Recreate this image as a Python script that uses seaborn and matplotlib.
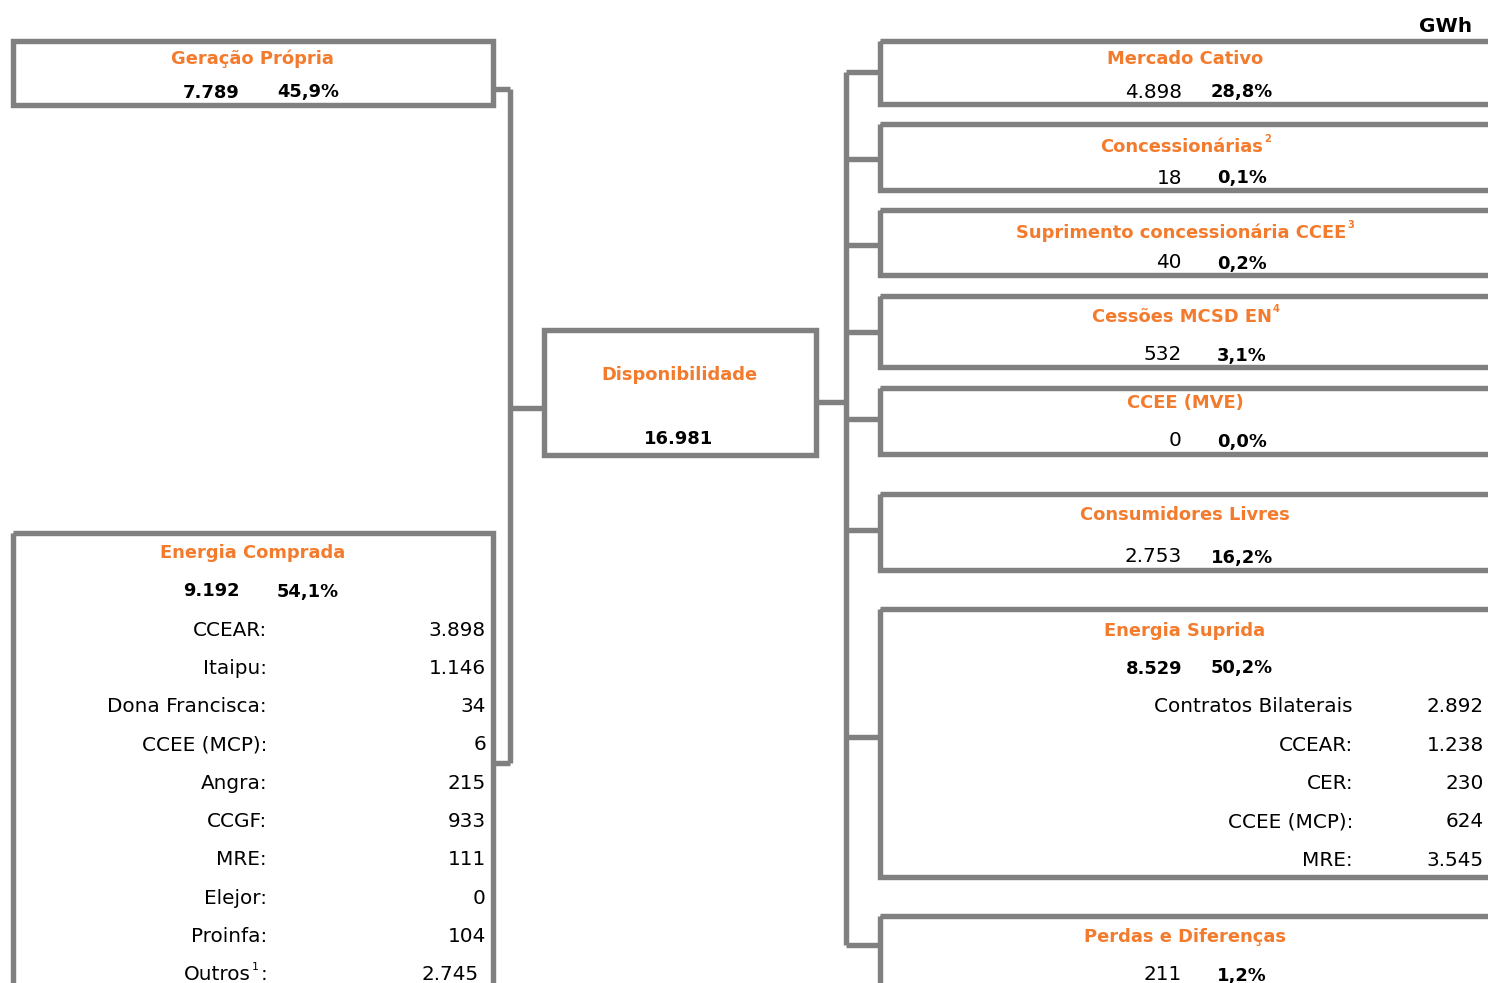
import matplotlib
matplotlib.use("Agg")
import matplotlib.pyplot as plt
import seaborn as sns
from matplotlib.patches import Rectangle

# ---------------- data ----------------
unit_label = "GWh"

gen_title = "Geração Própria"
gen_value = 7789
gen_pct = 45.9

comp_title = "Energia Comprada"
comp_value = 9192
comp_pct = 54.1
comp_items = ["CCEAR:", "Itaipu:", "Dona Francisca:", "CCEE (MCP):", "Angra:",
              "CCGF:", "MRE:", "Elejor:", "Proinfa:", "Outros"]
comp_item_sups = ["", "", "", "", "", "", "", "", "", "1"]
comp_item_values = [3898, 1146, 34, 6, 215, 933, 111, 0, 104, 2745]

disp_title = "Disponibilidade"
disp_value = 16981

right_titles = ["Mercado Cativo", "Concessionárias", "Suprimento concessionária CCEE",
                "Cessões MCSD EN", "CCEE (MVE)", "Consumidores Livres",
                "Energia Suprida", "Perdas e Diferenças"]
right_sups = ["", "2", "3", "4", "", "", "", ""]
right_values = [4898, 18, 40, 532, 0, 2753, 8529, 211]
right_pcts = [28.8, 0.1, 0.2, 3.1, 0.0, 16.2, 50.2, 1.2]

sup_items = ["Contratos Bilaterais", "CCEAR:", "CER:", "CCEE (MCP):", "MRE:"]
sup_values = [2892, 1238, 230, 624, 3545]

# ---------------- style ----------------
sns.set_theme(style="white")
plt.rcParams['font.family'] = ['DejaVu Sans']

ORANGE = '#F37B2D'
GRAY = '#808080'
LW = 3.9
FSB = 12.9   # bold text
FSN = 14.4   # regular text
BASE = 6.5   # baseline offset from visual centre (px)


def fmt_int(v):
    return f"{v:,}".replace(",", ".")


def fmt_pct(p):
    return f"{p:.1f}".replace(".", ",") + "%"


fig = plt.figure(figsize=(14.88, 9.83), dpi=100)
ax = fig.add_axes([0, 0, 1, 1])
ax.set_xlim(0, 1488)
ax.set_ylim(983, 0)
ax.axis('off')
fig.canvas.draw()
renderer = fig.canvas.get_renderer()
inv = ax.transData.inverted()


def txt(x, y, s, ha='center', bold=False, color='black', size=None):
    fs = size if size else (FSB if bold else FSN)
    return ax.text(x, y + BASE, s, ha=ha, va='baseline', color=color,
                   fontsize=fs, fontweight='bold' if bold else 'normal')


def box(x0, y0, x1, y1):
    ax.add_patch(Rectangle((x0, y0), x1 - x0, y1 - y0, fill=False,
                           ec=GRAY, lw=LW, joinstyle='miter', zorder=2))


def line(xs, ys):
    ax.plot(xs, ys, color=GRAY, lw=LW, solid_capstyle='butt',
            solid_joinstyle='miter', zorder=1)


def title(x, y, s, sup=""):
    if sup:
        probe = txt(0, y, sup, ha='left', bold=True, color=ORANGE, size=FSB * 0.55)
        w = probe.get_window_extent(renderer=renderer).width
        probe.remove()
        t = txt(x - w / 2, y, s, bold=True, color=ORANGE)
        bb = t.get_window_extent(renderer=renderer)
        xr, _ = inv.transform((bb.x1, bb.y1))
        txt(xr + 1, y - 10, sup, ha='left', bold=True, color=ORANGE, size=FSB * 0.55)
    else:
        txt(x, y, s, bold=True, color=ORANGE)


# ---------------- left boxes ----------------
box(12.5, 40.5, 492.5, 104.5)
title(252, 58, gen_title)
txt(240, 91, fmt_int(gen_value), ha='right', bold=True)
txt(308, 91, fmt_pct(gen_pct), bold=True)

box(12.5, 533, 492.5, 1010)
title(253, 552, comp_title)
txt(240, 590, fmt_int(comp_value), ha='right', bold=True)
txt(308, 590, fmt_pct(comp_pct), bold=True)
row_y0, row_dy = 629, 38.3
for i, (lab, sp, val) in enumerate(zip(comp_items, comp_item_sups, comp_item_values)):
    y = row_y0 + i * row_dy
    if sp:
        t = txt(267, y, ":", ha='right')
        bb = t.get_window_extent(renderer=renderer)
        xl, _ = inv.transform((bb.x0, bb.y0))
        ts = txt(xl - 1, y - 10, sp, ha='right', size=FSN * 0.55)
        bb2 = ts.get_window_extent(renderer=renderer)
        xl2, _ = inv.transform((bb2.x0, bb2.y0))
        txt(xl2 - 1, y, lab, ha='right')
        txt(479, y, fmt_int(val), ha='right')
    else:
        txt(267, y, lab, ha='right')
        txt(486, y, fmt_int(val), ha='right')

# left connectors
line([492.5, 510], [89, 89])
line([510, 510], [89, 763])
line([492.5, 510], [763, 763])
line([510, 543.5], [408, 408])

# ---------------- center ----------------
box(543.5, 330, 815.5, 455)
title(679, 373, disp_title)
txt(679, 437, fmt_int(disp_value), bold=True)

# right connectors
line([815.5, 846], [402, 402])
line([846, 846], [72, 945])
for yt in [72, 159, 245, 332, 419, 530, 737, 945]:
    line([846, 880], [yt, yt])

# ---------------- right boxes ----------------
box_y = [(41, 104), (124, 190), (210, 275), (296, 367), (388, 454),
         (494, 570), (609, 877), (916, 1010)]
title_y = [58, 145, 231, 316, 402, 514, 629, 936]
value_y = [91, 177, 262, 354, 440, 556, 667, 974]
for i in range(len(right_titles)):
    y0, y1 = box_y[i]
    box(880, y0, 1520, y1)
    title(1185, title_y[i], right_titles[i], right_sups[i])
    txt(1182, value_y[i], fmt_int(right_values[i]), ha='right',
        bold=(right_titles[i] == "Energia Suprida"))
    txt(1242, value_y[i], fmt_pct(right_pcts[i]), bold=True)

sup_y0, sup_dy = 706, 38.3
for i, (lab, val) in enumerate(zip(sup_items, sup_values)):
    y = sup_y0 + i * sup_dy
    txt(1353, y, lab, ha='right')
    txt(1484, y, fmt_int(val), ha='right')

txt(1472, 26, unit_label, ha='right', bold=True, size=14.5)

fig.savefig("out.png", dpi=100)
